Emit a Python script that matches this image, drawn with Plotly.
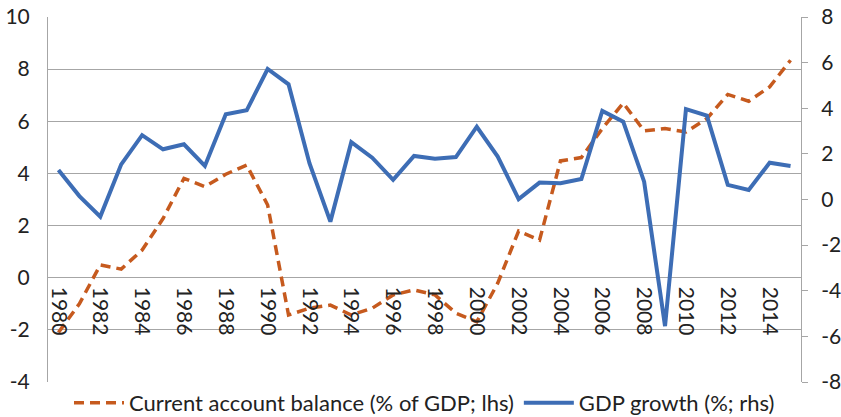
import plotly.graph_objects as go

years = list(range(1980, 2016))
current_account = [-2.1, -1.0, 0.49, 0.33, 1.06, 2.27, 3.81, 3.49, 3.97, 4.32,
                   2.79, -1.43, -1.17, -1.05, -1.43, -1.17, -0.66, -0.47, -0.66, -1.36,
                   -1.69, -0.21, 1.79, 1.44, 4.48, 4.61, 5.72, 6.7, 5.63, 5.72,
                   5.59, 6.1, 7.03, 6.77, 7.32, 8.34]
gdp_growth = [1.29, 0.15, -0.75, 1.54, 2.82, 2.2, 2.42, 1.47, 3.74, 3.91,
              5.72, 5.05, 1.59, -0.97, 2.51, 1.83, 0.86, 1.91, 1.79, 1.86,
              3.19, 1.88, 0.02, 0.74, 0.71, 0.9, 3.88, 3.41, 0.78, -5.55,
              3.96, 3.68, 0.64, 0.42, 1.61, 1.47]
tick_years = list(range(1980, 2015, 2))
lhs_ticks = list(range(-4, 11, 2))
rhs_ticks = list(range(-8, 9, 2))

FONT = "Lato"
FS = 21
GRID = "#A6A6A6"
ORANGE = "#C65A1E"
BLUE = "#3D6DB5"
TXT = "#222222"

fig = go.Figure()
fig.add_trace(go.Scatter(
    x=years, y=current_account, mode="lines",
    name="Current account balance (% of GDP; lhs)",
    line=dict(color=ORANGE, width=3.5, dash="10px,6px"),
    yaxis="y", xaxis="x"))
fig.add_trace(go.Scatter(
    x=years, y=gdp_growth, mode="lines",
    name="GDP growth (%; rhs)",
    line=dict(color=BLUE, width=4),
    yaxis="y2", xaxis="x"))

fig.update_layout(
    width=841, height=417,
    margin=dict(l=48, r=40, t=17, b=35, autoexpand=False),
    paper_bgcolor="white", plot_bgcolor="white",
    font=dict(family=FONT, size=FS, color=TXT),
    showlegend=True,
    legend=dict(orientation="h", x=0.5, xanchor="center", y=0.0, yanchor="top",
                font=dict(family=FONT, size=22, color=TXT),
                itemwidth=50, tracegroupgap=0),
    xaxis=dict(range=[1979.5, 2015.5], tickmode="array", tickvals=tick_years,
               ticktext=[str(t) for t in tick_years], tickangle=90,
               showgrid=False, zeroline=False, showline=False, ticks="",
               anchor="free", position=4/14, ticklabelstandoff=8, automargin=False,
               ticklabeloverflow="allow",
               tickfont=dict(family=FONT, size=FS, color=TXT)),
    yaxis=dict(range=[-4, 10], tickmode="array", tickvals=lhs_ticks,
               ticktext=[str(t) for t in lhs_ticks],
               showgrid=True, gridcolor=GRID, gridwidth=1,
               zeroline=False, showline=True, linecolor=GRID, linewidth=1,
               ticks="", ticklabelstandoff=13, automargin=False,
               ticklabeloverflow="allow",
               tickfont=dict(family=FONT, size=FS, color=TXT)),
    yaxis2=dict(range=[-8, 8], tickmode="array", tickvals=rhs_ticks,
                ticktext=[str(t) for t in rhs_ticks], overlaying="y", side="right",
                showgrid=False, zeroline=False, showline=True, linecolor=GRID, linewidth=1,
                ticks="outside", ticklen=6, tickcolor=GRID, ticklabelstandoff=9,
                automargin=False, ticklabeloverflow="allow",
                tickfont=dict(family=FONT, size=FS, color=TXT)),
)

fig.write_html("out.html", config={"displayModeBar": False},
               post_script="document.body.style.margin='0';")
